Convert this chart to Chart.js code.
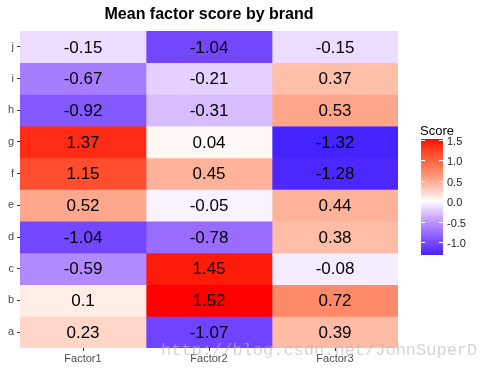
<!DOCTYPE html>
<html>
<head>
<meta charset="utf-8">
<script src="https://cdn.jsdelivr.net/npm/chart.js@4.4.0/dist/chart.umd.min.js"></script>
<style>
  html, body { margin: 0; padding: 0; background: #fff; }
  #wrap { width: 485px; height: 370px; }
</style>
</head>
<body>
<div id="wrap"><canvas id="myChart" width="485" height="370"></canvas></div>
<script>
// Data
var brands = ['a', 'b', 'c', 'd', 'e', 'f', 'g', 'h', 'i', 'j'];
var factors = ['Factor1', 'Factor2', 'Factor3'];
var factor1 = [0.23, 0.1, -0.59, -1.04, 0.52, 1.15, 1.37, -0.92, -0.67, -0.15];
var factor2 = [-1.07, 1.52, 1.45, -0.78, -0.05, 0.45, 0.04, -0.31, -0.21, -1.04];
var factor3 = [0.39, 0.72, -0.08, 0.38, 0.44, -1.28, -1.32, 0.53, 0.37, -0.15];
var legendTicks = [1.5, 1.0, 0.5, 0.0, -0.5, -1.0];
var legendLabels = ['1.5', '1.0', '0.5', '0.0', '-0.5', '-1.0'];

var series = [factor1, factor2, factor3];
var allVals = factor1.concat(factor2, factor3);
var vMin = Math.min.apply(null, allVals);
var vMax = Math.max.apply(null, allVals);
var vAbs = Math.max(Math.abs(vMin), Math.abs(vMax));

// colour scale: blue - white - red, interpolated in Lab
function toLin(c) { c /= 255; return c <= 0.04045 ? c / 12.92 : Math.pow((c + 0.055) / 1.055, 2.4); }
function fromLin(c) { c = c <= 0.0031308 ? 12.92 * c : 1.055 * Math.pow(Math.max(c, 0), 1 / 2.4) - 0.055; return Math.max(0, Math.min(255, Math.round(c * 255))); }
var Xn = 0.95047, Yn = 1.0, Zn = 1.08883;
function fLab(t) { return t > 0.008856 ? Math.cbrt(t) : 7.787 * t + 16 / 116; }
function fInv(t) { return t > 0.206893 ? t * t * t : (t - 16 / 116) / 7.787; }
function rgb2lab(rgb) {
    var r = toLin(rgb[0]), g = toLin(rgb[1]), b = toLin(rgb[2]);
    var x = (0.4124 * r + 0.3576 * g + 0.1805 * b) / Xn;
    var y = (0.2126 * r + 0.7152 * g + 0.0722 * b) / Yn;
    var z = (0.0193 * r + 0.1192 * g + 0.9505 * b) / Zn;
    var fx = fLab(x), fy = fLab(y), fz = fLab(z);
    return [116 * fy - 16, 500 * (fx - fy), 200 * (fy - fz)];
}
function lab2rgb(lab) {
    var fy = (lab[0] + 16) / 116, fx = fy + lab[1] / 500, fz = fy - lab[2] / 200;
    var x = fInv(fx) * Xn, y = fInv(fy) * Yn, z = fInv(fz) * Zn;
    var r = 3.2406 * x - 1.5372 * y - 0.4986 * z;
    var g = -0.9689 * x + 1.8758 * y + 0.0415 * z;
    var b = 0.0557 * x - 0.2040 * y + 1.0570 * z;
    return 'rgb(' + fromLin(r) + ',' + fromLin(g) + ',' + fromLin(b) + ')';
}
var labLow = rgb2lab([0, 0, 255]), labMid = rgb2lab([255, 255, 255]), labHigh = rgb2lab([255, 0, 0]);
function scoreColor(v) {
    var s = Math.min(1, Math.abs(v) / vAbs);
    s = s + 0.5 * s * (1 - s);   // a bit more saturated, like the original
    var end = v < 0 ? labLow : labHigh;
    return lab2rgb([labMid[0] + (end[0] - labMid[0]) * s,
                    labMid[1] + (end[1] - labMid[1]) * s,
                    labMid[2] + (end[2] - labMid[2]) * s]);
}

var FONT = '"Liberation Sans", Arial, sans-serif';

// cell labels, title, colourbar legend, watermark
var extras = {
    id: 'extras',
    afterDatasetsDraw: function (chart) {
        var ctx = chart.ctx;
        ctx.save();
        ctx.fillStyle = '#000';
        ctx.font = '17px ' + FONT;
        ctx.textAlign = 'center';
        ctx.textBaseline = 'middle';
        chart.data.datasets.forEach(function (ds, di) {
            chart.getDatasetMeta(di).data.forEach(function (bar, i) {
                var x = (bar.x + bar.base) / 2;
                ctx.fillText(String(series[di][i]), x, bar.y + 1);
            });
        });
        ctx.restore();
    },
    afterDraw: function (chart) {
        var ctx = chart.ctx, area = chart.chartArea;
        ctx.save();
        // title
        ctx.fillStyle = '#000';
        ctx.font = 'bold 16px ' + FONT;
        ctx.textAlign = 'center';
        ctx.textBaseline = 'alphabetic';
        ctx.fillText('Mean factor score by brand', (area.left + area.right) / 2, 19);

        // colourbar
        var bx = 421, bw = 22, top = 139, bottom = 255;
        var scale = function (v) { return top + (vMax - v) / (vMax - vMin) * (bottom - top); };
        for (var y = top; y < bottom; y++) {
            var v = vMax - (y + 0.5 - top) / (bottom - top) * (vMax - vMin);
            ctx.fillStyle = scoreColor(v);
            ctx.fillRect(bx, y, bw, 1);
        }
        ctx.strokeStyle = '#fff';
        ctx.lineWidth = 1;
        ctx.font = '11px ' + FONT;
        ctx.textAlign = 'left';
        ctx.textBaseline = 'middle';
        legendTicks.forEach(function (t, i) {
            var ty = Math.round(scale(t)) + 0.5;
            ctx.beginPath();
            ctx.moveTo(bx, ty); ctx.lineTo(bx + 4, ty);
            ctx.moveTo(bx + bw - 4, ty); ctx.lineTo(bx + bw, ty);
            ctx.stroke();
            ctx.fillStyle = '#222';
            ctx.fillText(legendLabels[i], bx + bw + 4, ty + 1);
        });
        ctx.fillStyle = '#000';
        ctx.font = '13px ' + FONT;
        ctx.textBaseline = 'alphabetic';
        ctx.fillText('Score', bx - 1, 135);

        // watermark
        ctx.fillStyle = 'rgba(185,185,185,0.6)';
        ctx.font = '17px "Liberation Mono", "DejaVu Sans Mono", monospace';
        ctx.textAlign = 'left';
        ctx.fillText('http://blog.csdn.net/JohnSuperD', 161, 355);
        ctx.restore();
    }
};

new Chart("myChart", {
    type: "bar",
    plugins: [extras],
    data: {
        labels: brands,
        datasets: factors.map(function (f, di) {
            return {
                label: f,
                data: brands.map(function () { return 1; }),
                backgroundColor: series[di].map(scoreColor),
                borderWidth: 0,
                barPercentage: 1.0,
                categoryPercentage: 1.0
            };
        })
    },
    options: {
        indexAxis: 'y',
        responsive: false,
        animation: false,
        events: [],
        layout: { padding: { left: 0, right: 87, top: 31, bottom: 0 } },
        plugins: {
            legend: { display: false },
            title: { display: false },
            tooltip: { enabled: false }
        },
        scales: {
            x: {
                type: 'linear',
                stacked: true,
                min: 0,
                max: factors.length,
                afterBuildTicks: function (axis) {
                    axis.ticks = factors.map(function (f, i) { return { value: i + 0.5 }; });
                },
                afterFit: function (axis) { axis.height = 22; },
                ticks: {
                    callback: function (v, i) { return factors[i]; },
                    color: '#4d4d4d',
                    font: { family: FONT, size: 11 },
                    padding: 1,
                    maxRotation: 0
                },
                grid: { drawOnChartArea: false, tickLength: 3, color: '#333', tickWidth: 1 },
                border: { display: false }
            },
            y: {
                stacked: true,
                reverse: true,
                afterFit: function (axis) { axis.width = 20; },
                ticks: {
                    color: '#4d4d4d',
                    font: { family: FONT, size: 11 },
                    padding: 3
                },
                grid: { drawOnChartArea: false, tickLength: 3, color: '#333', tickWidth: 1, offset: false },
                border: { display: false }
            }
        }
    }
});
</script>
</body>
</html>
